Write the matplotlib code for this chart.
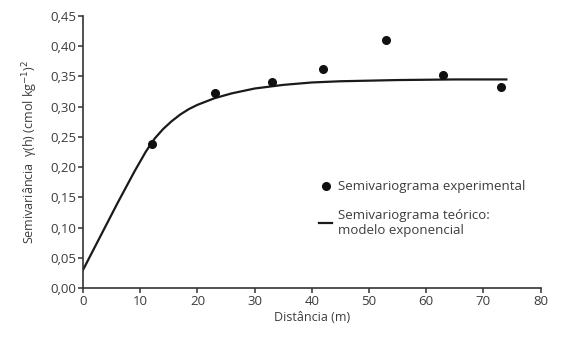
#!/usr/bin/env python3

import numpy as np
import matplotlib
matplotlib.use("Agg")
import matplotlib.pyplot as plt
from matplotlib.ticker import FuncFormatter

plt.rcParams['font.family'] = ['Open Sans', 'DejaVu Sans']

# experimental semivariogram
dist_exp = [12, 23, 33, 42, 53, 63, 73]
gamma_exp = [0.238, 0.323, 0.340, 0.362, 0.411, 0.352, 0.332]

# theoretical model (exponential)
dist_mod = [0, 3, 6, 9, 11, 12.5, 14, 15.5, 17, 18.5, 20, 23, 26, 30, 35, 40, 45, 55, 65, 74]
gamma_mod = [0.030, 0.085, 0.140, 0.193, 0.226, 0.247, 0.263, 0.276, 0.287, 0.296,
             0.303, 0.314, 0.322, 0.330, 0.336, 0.340, 0.342, 0.344, 0.345, 0.345]

xticks = [0, 10, 20, 30, 40, 50, 60, 70, 80]
yticks = [0.00, 0.05, 0.10, 0.15, 0.20, 0.25, 0.30, 0.35, 0.40, 0.45]

txt = '#3c3c3c'

fig = plt.figure(figsize=(5.65, 3.40), dpi=100)
ax = fig.add_axes([0.147, 0.153, 0.81, 0.80])

ax.plot(dist_mod, gamma_mod, color='#1a1a1a', lw=1.6,
        label='Semivariograma teórico:\nmodelo exponencial', zorder=2)
ax.plot(dist_exp, gamma_exp, 'o', color='#111111', ms=5.5, ls='none',
        label='Semivariograma experimental', zorder=3)

ax.set_xlim(0, 80)
ax.set_ylim(0, 0.45)
ax.set_xticks(xticks)
ax.set_yticks(yticks)
ax.yaxis.set_major_formatter(FuncFormatter(lambda v, p: f"{v:.2f}".replace('.', ',')))

for s in ['top', 'right']:
    ax.spines[s].set_visible(False)
for s in ['left', 'bottom']:
    ax.spines[s].set_linewidth(1.2)
    ax.spines[s].set_color('#333333')
ax.tick_params(direction='out', length=3.5, width=1.1, color='#333333',
               labelsize=9.5, labelcolor=txt, pad=1.5)

ax.set_xlabel('Distância (m)', fontsize=9, color=txt, labelpad=2)
ax.set_ylabel('Semivariância  γ(h) (cmol kg$^{-1}$)$^{2}$', fontsize=9,
              color=txt, labelpad=7)

h, l = ax.get_legend_handles_labels()
leg = ax.legend(h[::-1], l[::-1], loc='upper left', bbox_to_anchor=(0.49, 0.44),
                frameon=False, fontsize=9.5, handlelength=1.0, handletextpad=0.4,
                labelspacing=1.2, labelcolor=txt)

plt.savefig("out.png", dpi=100, facecolor='white')
